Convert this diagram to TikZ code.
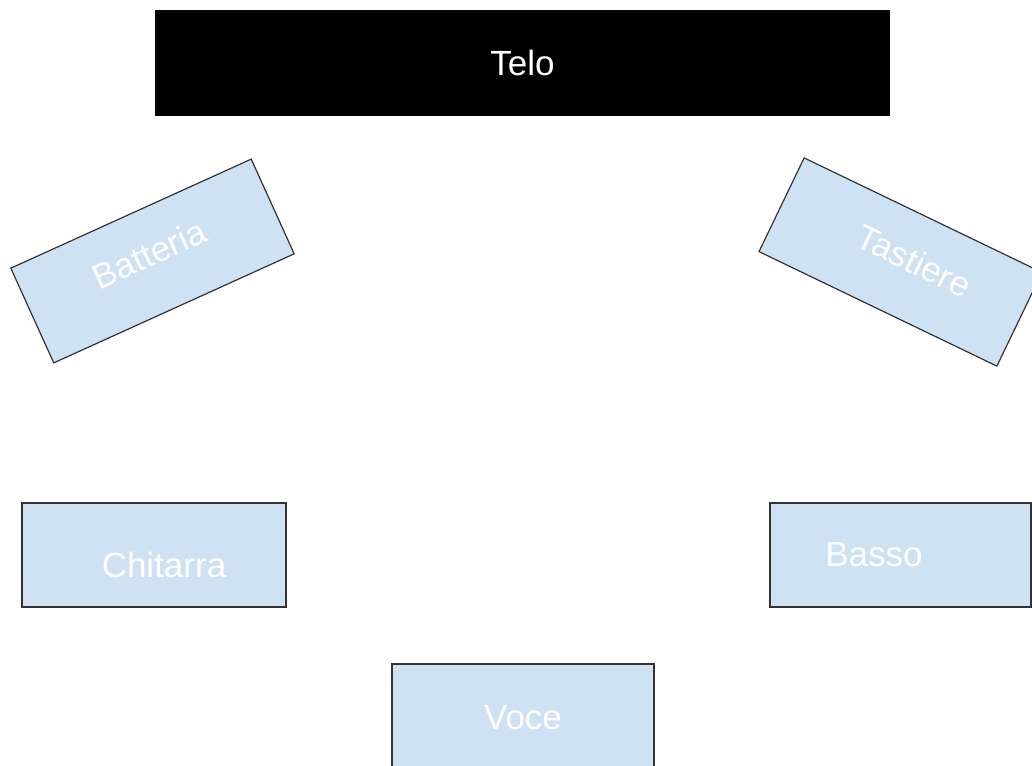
\documentclass[tikz,border=0pt]{standalone}
\usepackage{fontspec}
\setmainfont{Liberation Sans}
\definecolor{boxblue}{HTML}{CFE2F3}
\definecolor{edgegrey}{HTML}{333333}
\begin{document}
\begin{tikzpicture}[x=1pt,y=-1pt,
  stagebox/.style={draw=edgegrey, line width=1.2pt, fill=boxblue, inner sep=0pt, minimum width=264pt, minimum height=104pt},
  lbl/.style={text=white, font=\fontsize{35}{42}\selectfont, inner sep=0pt}]
\useasboundingbox (0,0) rectangle (1032,765);
\clip (0,0) rectangle (1032,765);
\fill[white] (0,0) rectangle (1032,765);
\node[fill=black, minimum width=735pt, minimum height=106pt, inner sep=0pt] (telo) at (522.5,63) {};
\node[lbl] (telol) at (telo.center) {Telo};
\node[stagebox, rotate=24.4] (bat) at (152.5,261) {};
\node[lbl, rotate=24.4, yshift=8pt] (batl) at (bat.center) {Batteria};
\node[stagebox, rotate=-25.7] (tas) at (900.5,262) {};
\node[lbl, rotate=-25.7, xshift=11.5pt, yshift=7pt] (tasl) at (tas.center) {Tastiere};
\node[stagebox] (chi) at (154,555) {};
\node[lbl, xshift=10pt, yshift=-10pt] (chil) at (chi.center) {Chitarra};
\node[stagebox, minimum width=261pt] (bas) at (900.5,555) {};
\node[lbl, xshift=-26.5pt] (basl) at (bas.center) {Basso};
\node[stagebox, minimum width=262pt] (voc) at (523,716) {};
\node[lbl, yshift=-2pt] (vocl) at (voc.center) {Voce};
\end{tikzpicture}
\end{document}
